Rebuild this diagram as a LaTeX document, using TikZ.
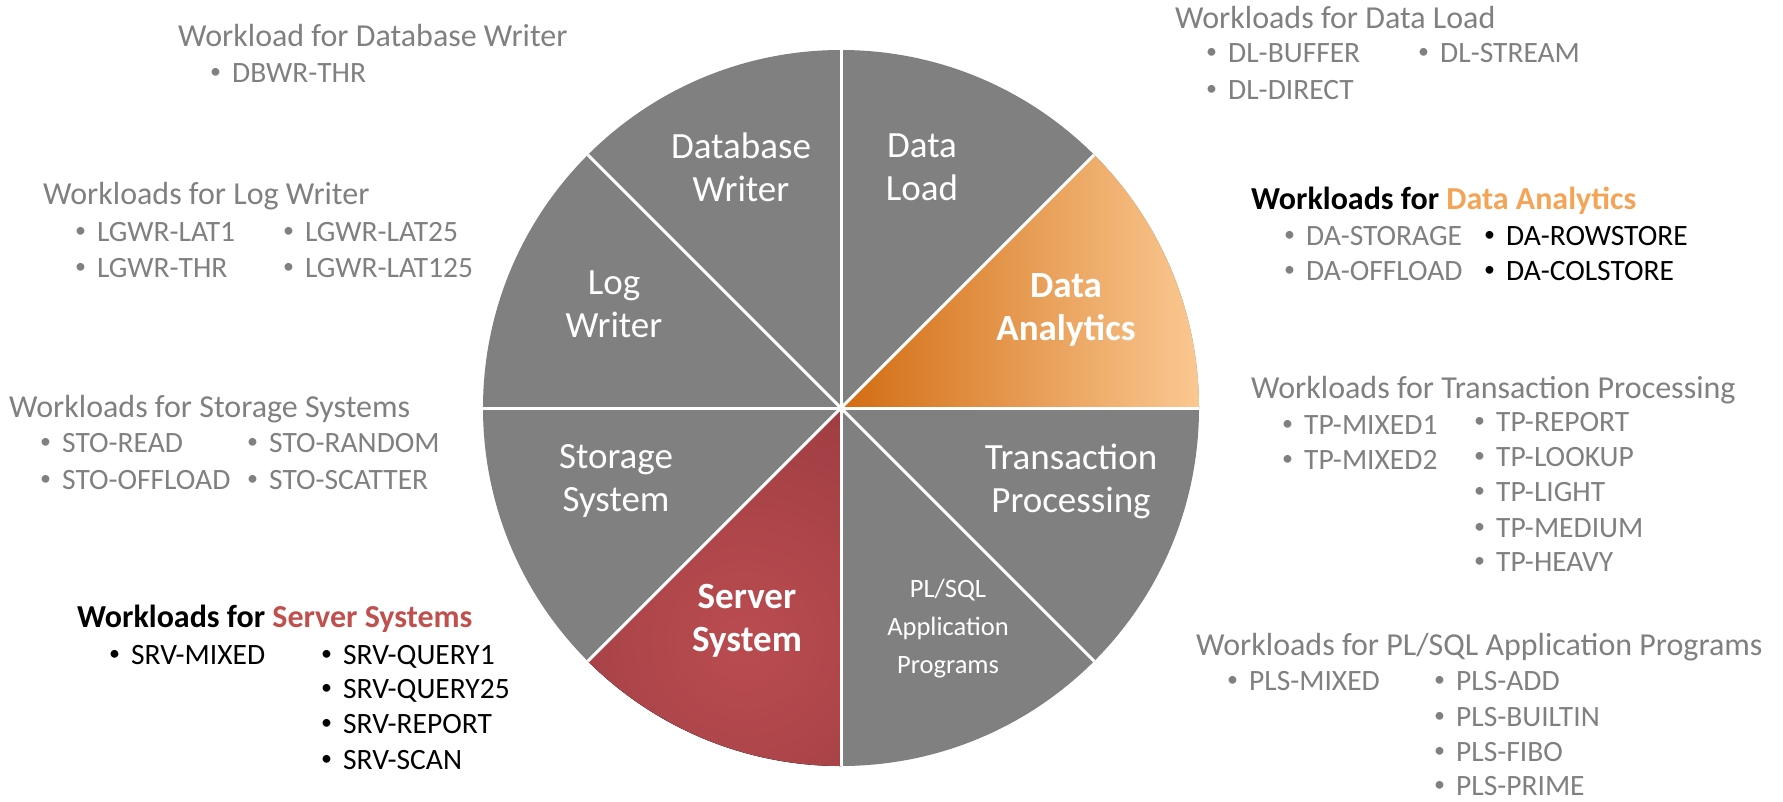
\documentclass[tikz,border=0pt]{standalone}
\usepackage{fontspec}
\setmainfont{Carlito}
\definecolor{slicegrey}{RGB}{128,128,128}
\definecolor{wlgrey}{RGB}{128,128,128}
\definecolor{daorange}{RGB}{244,164,86}
\definecolor{srvred}{RGB}{192,80,77}
\definecolor{daDark}{RGB}{210,108,18}
\definecolor{daLight}{RGB}{250,200,145}
\definecolor{srvDark}{RGB}{134,48,56}
\definecolor{srvLight}{RGB}{186,76,80}
\tikzset{
  pielbl/.style={text=white, align=center, font=\fontsize{37}{43}\selectfont, inner sep=0pt},
  pielblbold/.style={pielbl, font=\fontsize{37}{43}\selectfont\bfseries},
  pielblsmall/.style={pielbl, font=\fontsize{26.5}{38}\selectfont},
  wlhead/.style={anchor=base west, inner sep=0pt, text=wlgrey, font=\fontsize{32}{38}\selectfont},
  wlheadbold/.style={anchor=base west, inner sep=0pt, text=black, font=\fontsize{32}{38}\selectfont\bfseries},
  wlitem/.style={anchor=base west, inner sep=0pt, text=wlgrey, font=\fontsize{29.5}{34}\selectfont},
  wlitemblack/.style={wlitem, text=black},
  sep/.style={white, line width=3pt}
}
\newcommand{\bul}{\makebox[21pt][l]{\hspace{-1pt}\raisebox{0.12em}{\fontsize{22}{22}\selectfont\textbullet}}}
\begin{document}
\begin{tikzpicture}[x=1pt,y=-1pt]
\useasboundingbox (0,0) rectangle (1783,801);
\coordinate (C) at (841,408);
% pie
\fill[slicegrey] (C) circle[radius=358];
\path[left color=daDark, right color=daLight] (C) -- ++(-45:358) arc[start angle=-45, end angle=0, radius=358] -- cycle;
\path[path picture={\fill[inner color=srvLight, outer color=srvDark] (745,640) circle[radius=480];}]
  (C) -- ++(90:358) arc[start angle=90, end angle=135, radius=358] -- cycle;
\foreach \a in {0,45,...,315} \draw[sep] (C) -- ++(\a:358);
% pie labels
\node[pielbl] (dbw) at (741,167) {Database\\Writer};
\node[pielbl] (dl) at (922,167) {Data\\Load};
\node[pielbl] (lw) at (614,304) {Log\\Writer};
\node[pielblbold] (da) at (1066,310) {Data\\Analytics};
\node[pielbl] (ss) at (616,481) {Storage\\System};
\node[pielbl] (tp) at (1071,481) {Transaction\\Processing};
\node[pielblbold] (srv) at (747,621) {Server\\System};
\node[pielblsmall] (pls) at (948,629) {PL/SQL\\Application\\Programs};
% Database writer
\node[wlhead] (hdbw) at (178,46) {Workload for Database Writer};
\node[wlitem] (i1) at (211,82) {\bul DBWR-THR};
% Log writer
\node[wlhead] (hlw) at (43,204) {Workloads for Log Writer};
\node[wlitem] (i2) at (76,241) {\bul LGWR-LAT1};
\node[wlitem] (i3) at (76,277) {\bul LGWR-THR};
\node[wlitem] (i4) at (284,241) {\bul LGWR-LAT25};
\node[wlitem] (i5) at (284,277) {\bul LGWR-LAT125};
% Storage
\node[wlhead] (hsto) at (9,417) {Workloads for Storage Systems};
\node[wlitem] (i6) at (41,452) {\bul STO-READ};
\node[wlitem] (i7) at (41,489) {\bul STO-OFFLOAD};
\node[wlitem] (i8) at (248,452) {\bul STO-RANDOM};
\node[wlitem] (i9) at (248,489) {\bul STO-SCATTER};
% Server
\node[wlheadbold] (hsrv) at (77,627) {Workloads for \textcolor{srvred}{Server Systems}};
\node[wlitemblack] (i10) at (110,664) {\bul SRV-MIXED};
\node[wlitemblack] (i11) at (322,664) {\bul SRV-QUERY1};
\node[wlitemblack] (i12) at (322,698) {\bul SRV-QUERY25};
\node[wlitemblack] (i13) at (322,733) {\bul SRV-REPORT};
\node[wlitemblack] (i14) at (322,769) {\bul SRV-SCAN};
% Data load
\node[wlhead] (hdl) at (1175,28) {Workloads for Data Load};
\node[wlitem] (i15) at (1207,62) {\bul DL-BUFFER};
\node[wlitem] (i16) at (1207,99) {\bul DL-DIRECT};
\node[wlitem] (i17) at (1419,62) {\bul DL-STREAM};
% Data analytics
\node[wlheadbold] (hda) at (1251,209) {Workloads for \textcolor{daorange}{Data Analytics}};
\node[wlitem] (i18) at (1285,245) {\bul DA-STORAGE};
\node[wlitem] (i19) at (1285,280) {\bul DA-OFFLOAD};
\node[wlitemblack] (i20) at (1485,245) {\bul DA-ROWSTORE};
\node[wlitemblack] (i21) at (1485,280) {\bul DA-COLSTORE};
% Transaction processing
\node[wlhead] (htp) at (1251,398) {Workloads for Transaction Processing};
\node[wlitem] (i22) at (1283,434) {\bul TP-MIXED1};
\node[wlitem] (i23) at (1283,469) {\bul TP-MIXED2};
\node[wlitem] (i24) at (1475,431) {\bul TP-REPORT};
\node[wlitem] (i25) at (1475,466) {\bul TP-LOOKUP};
\node[wlitem] (i26) at (1475,501) {\bul TP-LIGHT};
\node[wlitem] (i27) at (1475,537) {\bul TP-MEDIUM};
\node[wlitem] (i28) at (1475,571) {\bul TP-HEAVY};
% PL/SQL
\node[wlhead] (hpls) at (1196,655) {Workloads for PL/SQL Application Programs};
\node[wlitem] (i29) at (1228,690) {\bul PLS-MIXED};
\node[wlitem] (i30) at (1435,690) {\bul PLS-ADD};
\node[wlitem] (i31) at (1435,726) {\bul PLS-BUILTIN};
\node[wlitem] (i32) at (1435,761) {\bul PLS-FIBO};
\node[wlitem] (i33) at (1435,795) {\bul PLS-PRIME};
\end{tikzpicture}
\end{document}
